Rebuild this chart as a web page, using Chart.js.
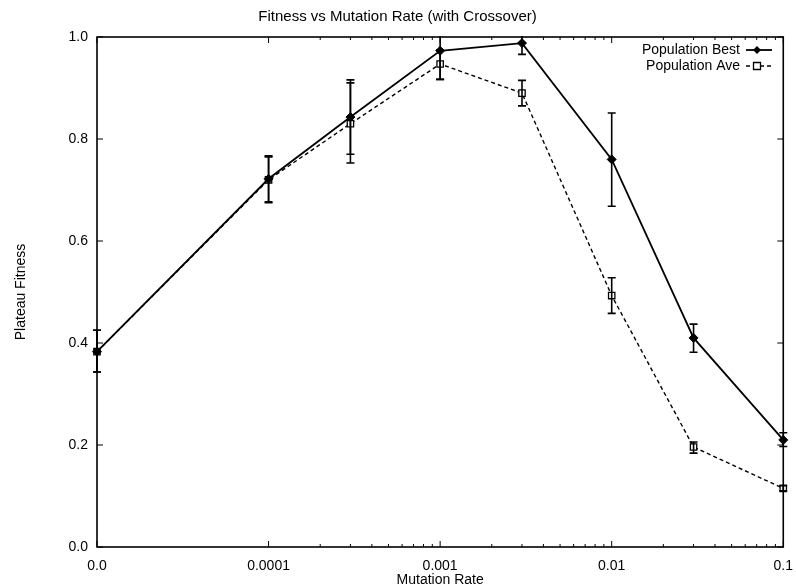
<!DOCTYPE html>
<html lang="en">
<head>
<meta charset="UTF-8">
<title>Fitness vs Mutation Rate (with Crossover)</title>
<style>
    html, body {
        margin: 0;
        padding: 0;
        background: #fff;
    }
    .chart-container {
        position: relative;
        width: 796px;
        height: 587px;
    }
</style>
<script src="https://cdn.jsdelivr.net/npm/chart.js@4.4.0/dist/chart.umd.min.js"></script>
</head>
<body>
<div class="chart-container"><canvas id="chart" width="796" height="587"></canvas></div>
<script>
// mutation rates tested (0.0 = no mutation)
const mutationRates = [0, 0.0001, 0.0003, 0.001, 0.003, 0.01, 0.03, 0.1];
const tickRates = [0, 0.0001, 0.001, 0.01, 0.1];
const tickLabels = ['0.0', '0.0001', '0.001', '0.01', '0.1'];

// Population Best
const bestFitness = [0.383, 0.722, 0.843, 0.973, 0.988, 0.760, 0.410, 0.210];
const bestLow     = [0.343, 0.675, 0.770, 0.917, 0.966, 0.668, 0.382, 0.197];
const bestHigh    = [0.425, 0.767, 0.916, 1.030, 1.010, 0.851, 0.437, 0.224];

// Population Ave
const aveFitness = [0.383, 0.720, 0.830, 0.947, 0.890, 0.493, 0.196, 0.115];
const aveLow     = [0.343, 0.677, 0.753, 0.917, 0.865, 0.458, 0.184, 0.110];
const aveHigh    = [0.425, 0.765, 0.910, 0.975, 0.915, 0.528, 0.206, 0.120];

const seriesNames = ['Population Best', 'Population Ave'];

const FONT = 'Liberation Sans, Arial, Helvetica, sans-serif';

// decades are equally spaced, 0.0 sits one decade left of 0.0001
function xPos(rate) {
    return rate === 0 ? 0 : 5 + Math.log10(rate);
}

function points(values) {
    return values.map((v, i) => ({ x: xPos(mutationRates[i]), y: v }));
}

const errorBars = [
    { low: bestLow, high: bestHigh },
    { low: aveLow, high: aveHigh }
];

// error bars, box, inward ticks and the key, gnuplot style
const gnuplotDecor = {
    id: 'gnuplotDecor',
    afterDatasetsDraw(chart) {
        const ctx = chart.ctx;
        const area = chart.chartArea;
        const xs = chart.scales.x;
        const ys = chart.scales.y;

        ctx.save();
        ctx.strokeStyle = '#000';
        ctx.fillStyle = '#000';

        // error bars (only clipped at top/bottom)
        ctx.save();
        ctx.beginPath();
        ctx.rect(0, area.top - 1, chart.width, area.bottom - area.top + 2);
        ctx.clip();
        ctx.lineWidth = 1.6;
        errorBars.forEach(eb => {
            mutationRates.forEach((r, i) => {
                const px = xs.getPixelForValue(xPos(r));
                const lo = ys.getPixelForValue(eb.low[i]);
                const hi = ys.getPixelForValue(eb.high[i]);
                ctx.beginPath();
                ctx.moveTo(px, lo);
                ctx.lineTo(px, hi);
                ctx.moveTo(px - 4, lo);
                ctx.lineTo(px + 4, lo);
                ctx.moveTo(px - 4, hi);
                ctx.lineTo(px + 4, hi);
                ctx.stroke();
            });
        });
        ctx.restore();

        // frame
        ctx.lineWidth = 1.6;
        ctx.strokeRect(area.left, area.top, area.right - area.left, area.bottom - area.top);

        // inward ticks
        ctx.lineWidth = 1;
        ctx.beginPath();
        ys.ticks.forEach(t => {
            const py = ys.getPixelForValue(t.value);
            ctx.moveTo(area.left, py);
            ctx.lineTo(area.left + 6, py);
            ctx.moveTo(area.right, py);
            ctx.lineTo(area.right - 6, py);
        });
        xs.ticks.forEach(t => {
            const px = xs.getPixelForValue(t.value);
            ctx.moveTo(px, area.bottom);
            ctx.lineTo(px, area.bottom - 6);
            ctx.moveTo(px, area.top);
            ctx.lineTo(px, area.top + 6);
        });
        // minor log ticks inside each decade
        for (let d = 1; d < 4; d++) {
            for (let m = 2; m < 10; m++) {
                const px = xs.getPixelForValue(d + Math.log10(m));
                ctx.moveTo(px, area.bottom);
                ctx.lineTo(px, area.bottom - 3);
                ctx.moveTo(px, area.top);
                ctx.lineTo(px, area.top + 3);
            }
        }
        ctx.stroke();

        // key
        ctx.font = '14px ' + FONT;
        ctx.textAlign = 'right';
        ctx.textBaseline = 'middle';
        const keyRight = 740;
        const keyY = [50, 66];
        chart.data.datasets.forEach((ds, i) => {
            const y = keyY[i];
            ctx.fillStyle = '#000';
            ctx.fillText(ds.label, keyRight, y);
            ctx.lineWidth = ds.borderWidth;
            ctx.setLineDash(ds.borderDash || []);
            ctx.beginPath();
            ctx.moveTo(keyRight + 6, y);
            ctx.lineTo(keyRight + 32, y);
            ctx.stroke();
            ctx.setLineDash([]);
            const cx = keyRight + 17;
            ctx.lineWidth = 1.3;
            ctx.beginPath();
            if (ds.pointStyle === 'rectRot') {
                ctx.moveTo(cx, y - 4);
                ctx.lineTo(cx + 4, y);
                ctx.lineTo(cx, y + 4);
                ctx.lineTo(cx - 4, y);
                ctx.closePath();
                ctx.fill();
            } else {
                ctx.rect(cx - 3.5, y - 3.5, 7, 7);
                ctx.fillStyle = '#fff';
                ctx.fill();
                ctx.stroke();
            }
        });

        ctx.restore();
    }
};

const ctx = document.getElementById('chart').getContext('2d');
new Chart(ctx, {
    type: 'line',
    data: {
        datasets: [{
            label: seriesNames[0],
            data: points(bestFitness),
            borderColor: '#000',
            borderWidth: 1.8,
            pointStyle: 'rectRot',
            pointRadius: 4.5,
            pointBackgroundColor: '#000',
            pointBorderColor: '#000',
            pointBorderWidth: 1,
            fill: false,
            clip: false,
            tension: 0
        }, {
            label: seriesNames[1],
            data: points(aveFitness),
            borderColor: '#000',
            borderWidth: 1.4,
            borderDash: [4, 3],
            pointStyle: 'rect',
            pointRadius: 4.5,
            pointBackgroundColor: '#fff',
            pointBorderColor: '#000',
            pointBorderWidth: 1.3,
            fill: false,
            clip: false,
            tension: 0
        }]
    },
    options: {
        responsive: false,
        animation: false,
        devicePixelRatio: 1,
        layout: {
            padding: { left: 0, right: 1, top: 0, bottom: 0 }
        },
        plugins: {
            legend: { display: false },
            tooltip: { enabled: false },
            title: {
                display: true,
                text: 'Fitness vs Mutation Rate (with Crossover)',
                color: '#000',
                font: { family: FONT, size: 15, weight: 'normal' },
                padding: { top: 8, bottom: 11 }
            }
        },
        scales: {
            x: {
                type: 'linear',
                min: 0,
                max: 4,
                afterBuildTicks: scale => {
                    scale.ticks = tickRates.map(r => ({ value: xPos(r) }));
                },
                afterFit: scale => { scale.height = 40; },
                grid: { display: false },
                border: { display: false },
                ticks: {
                    color: '#000',
                    font: { family: FONT, size: 14 },
                    padding: 3,
                    maxRotation: 0,
                    callback: (value, index) => tickLabels[index]
                },
                title: {
                    display: true,
                    text: 'Mutation Rate',
                    color: '#000',
                    font: { family: FONT, size: 14 },
                    padding: { top: 0, bottom: -2 }
                }
            },
            y: {
                min: 0,
                max: 1,
                afterFit: scale => { scale.width = 97; },
                grid: { display: false },
                border: { display: false },
                ticks: {
                    stepSize: 0.2,
                    color: '#000',
                    font: { family: FONT, size: 14 },
                    padding: 1,
                    callback: value => value.toFixed(1)
                },
                title: {
                    display: true,
                    text: 'Plateau Fitness',
                    color: '#000',
                    font: { family: FONT, size: 14 },
                    padding: { top: 13, bottom: 0 }
                }
            }
        }
    },
    plugins: [gnuplotDecor]
});
</script>
</body>
</html>
